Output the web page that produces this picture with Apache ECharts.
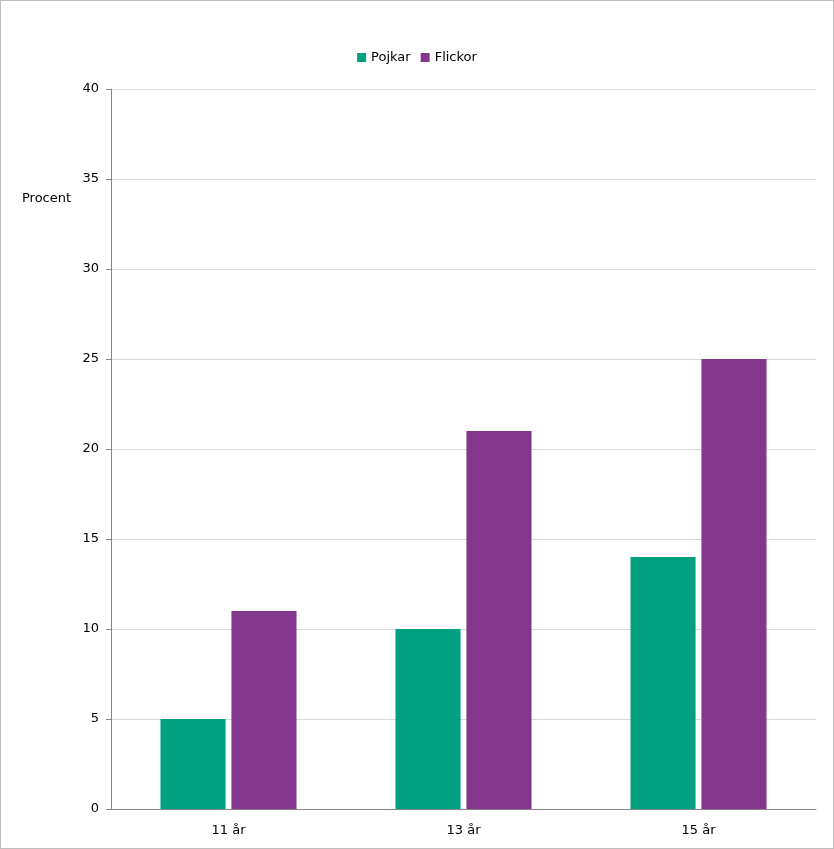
<!DOCTYPE html>
<html><head><meta charset="utf-8">
<script src="https://cdn.jsdelivr.net/npm/echarts@6/dist/echarts.min.js"></script>
<style>html,body{margin:0;padding:0;background:#fff}
#c{width:834px;height:849px;box-sizing:border-box;border:1px solid #BDBDBD}</style>
</head><body><div id="c"></div>
<script>
const categories = ['11 år', '13 år', '15 år'];
const pojkar = [5, 10, 14];
const flickor = [11, 21, 25];
const seriesNames = ['Pojkar', 'Flickor'];
const yTicks = {min: 0, max: 40, interval: 5};
const font = 'Tahoma, "DejaVu Sans", Verdana, sans-serif';
const chart = echarts.init(document.getElementById('c'), null, {renderer: 'canvas'});
chart.setOption({
  animation: false,
  textStyle: {fontFamily: font},
  legend: {
    top: 45, left: 'center', itemWidth: 9, itemHeight: 9, itemGap: 10,
    icon: 'rect',
    textStyle: {fontSize: 13, color: '#000', fontFamily: font},
    data: seriesNames
  },
  grid: {left: 110, right: 17, top: 88, bottom: 39, containLabel: false},
  graphic: [{type: 'text', left: 21, top: 191, style: {text: 'Procent', font: '13px ' + font, fill: '#000'}}],
  xAxis: {
    type: 'category', data: categories,
    axisLine: {lineStyle: {color: '#868686'}},
    axisTick: {show: false},
    axisLabel: {color: '#000', fontSize: 13, margin: 15, fontFamily: font}
  },
  yAxis: {
    type: 'value', min: yTicks.min, max: yTicks.max, interval: yTicks.interval,
    axisLine: {show: true, lineStyle: {color: '#868686'}},
    axisTick: {show: true, length: 5, lineStyle: {color: '#868686'}},
    axisLabel: {color: '#000', fontSize: 13, margin: 12, fontFamily: font},
    splitLine: {lineStyle: {color: '#D9D9D9'}}
  },
  series: [
    {name: seriesNames[0], type: 'bar', data: pojkar, barWidth: '27.7%', barGap: '9%', itemStyle: {color: '#00A081'}},
    {name: seriesNames[1], type: 'bar', data: flickor, barWidth: '27.7%', itemStyle: {color: '#82368C'}}
  ]
});
</script></body></html>
